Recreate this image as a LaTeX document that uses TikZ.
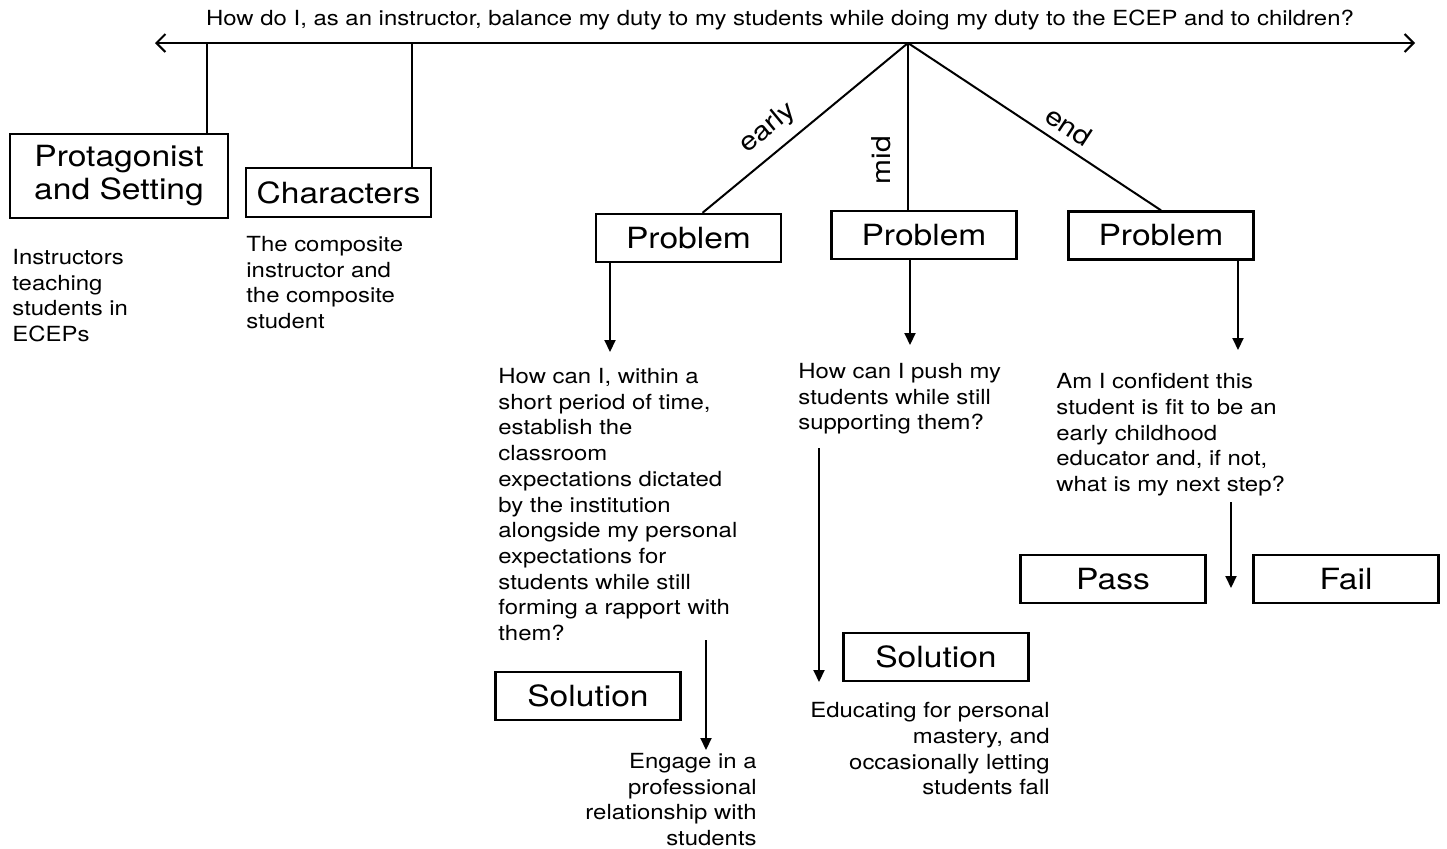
\documentclass[tikz,border=0pt]{standalone}
\usepackage{fontspec}
\setmainfont{TeX Gyre Heros}[FakeStretch=1.15]
\usetikzlibrary{arrows.meta}

\begin{document}
\begin{tikzpicture}[x=0.5pt,y=-0.5pt,
    box/.style={draw,line width=1.2pt,inner sep=0pt,minimum width=92.5pt,minimum height=24pt,font=\fontsize{14.6}{16.5}\selectfont,align=center},
    txt/.style={inner sep=0pt,font=\fontsize{10.4}{12.85}\selectfont},
    lbl/.style={inner sep=0pt,font=\fontsize{13}{15}\selectfont},
    arr/.style={line width=1pt,-{Triangle[length=6pt,width=5.5pt]}}]
            \useasboundingbox (0,0) rectangle (1447,848);
            \node[inner sep=0pt,font=\fontsize{10.4}{12}\selectfont] (title) at (780,20) {How do I, as an instructor, balance my duty to my students while doing my duty to the ECEP and to children?};
            \coordinate (left) at (155,43);
            \coordinate (right) at (1415,43);
            \draw[line width=1pt,{Straight Barb[length=4.5pt,width=9pt]}-{Straight Barb[length=4.5pt,width=9pt]}] (left) -- (right);
            \node[box,minimum width=109pt,minimum height=42pt] (prot) at (119,176) {Protagonist\\and Setting};
            \node[box,minimum height=24.5pt] (chars) at (338.5,192.5) {Characters};
            \node[box] (prob1) at (688.5,238) {Problem};
            \node[box] (prob2) at (924,235) {Problem};
            \node[box] (prob3) at (1161,235.5) {Problem};
            \node[box] (sol1) at (588,696) {Solution};
            \node[box] (sol2) at (936,657) {Solution};
            \node[box] (pass) at (1113,579) {Pass};
            \node[box] (fail) at (1346,579) {Fail};
            \coordinate (t1) at (207,43);
            \coordinate (t2) at (412,43);
            \coordinate (apex) at (908,43);
            \draw[line width=1pt] (t1) -- (t1 |- prot.north);
            \draw[line width=1pt] (t2) -- (t2 |- chars.north);
            \draw[line width=1pt] (apex) -- ([xshift=7pt]prob1.north);
            \draw[line width=1pt] (apex) -- (apex |- prob2.north);
            \draw[line width=1pt] (apex) -- (prob3.north);
            \node[lbl,rotate=39.7] (early) at (768,128) {early};
            \node[lbl,rotate=90] (mid) at (881,160) {mid};
            \node[lbl,rotate=-33.2] (end) at (1069,126) {end};
            \node[txt,anchor=north west,align=left] (settxt) at (12,249) {Instructors\\teaching\\students in\\ECEPs};
            \node[txt,anchor=north west,align=left] (chtxt) at (246,236) {The composite\\instructor and\\the composite\\student};
            \node[txt,anchor=north west,align=left] (q1) at (498,368) {How can I, within a\\short period of time,\\establish the\\classroom\\expectations dictated\\by the institution\\alongside my personal\\expectations for\\students while still\\forming a rapport with\\them?};
            \node[txt,anchor=north west,align=left] (q2) at (798,363) {How can I push my\\students while still\\supporting them?};
            \node[txt,anchor=north west,align=left] (q3) at (1056,373) {Am I confident this\\student is fit to be an\\early childhood\\educator and, if not,\\what is my next step?};
            \node[txt,anchor=north east,align=right] (s1txt) at (757,753) {Engage in a\\professional\\relationship with\\students};
            \node[txt,anchor=north east,align=right] (s2txt) at (1050,702) {Educating for personal\\mastery, and\\occasionally letting\\students fall};
            \coordinate (a1) at (610,352);
            \coordinate (a2) at (910,345);
            \coordinate (a3) at (1238,350);
            \coordinate (a4) at (706,640);
            \coordinate (b4) at (706,750);
            \coordinate (a5) at (819,448);
            \coordinate (b5) at (819,682);
            \coordinate (a6) at (1231,502);
            \coordinate (b6) at (1231,588);
            \draw[arr] (prob1.south -| a1) -- (a1);
            \draw[arr] (prob2.south -| a2) -- (a2);
            \draw[arr] (prob3.south -| a3) -- (a3);
            \draw[arr] (a4) -- (b4);
            \draw[arr] (a5) -- (b5);
            \draw[arr] (a6) -- (b6);
        \end{tikzpicture}
\end{document}
